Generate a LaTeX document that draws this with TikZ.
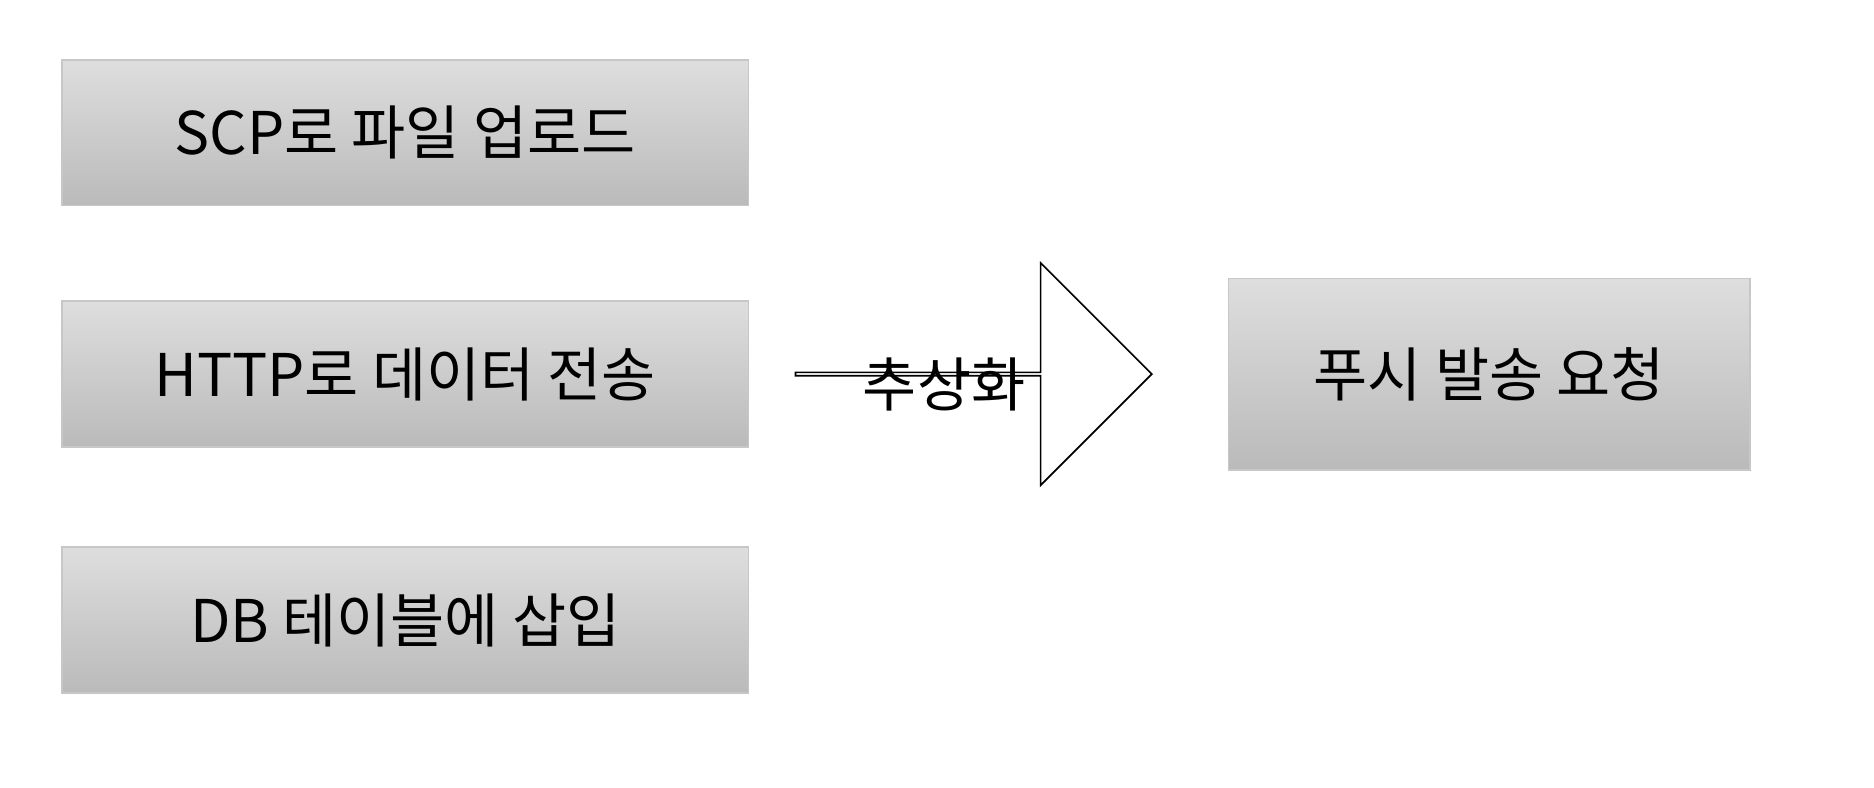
\documentclass[tikz,border=0pt]{standalone}
\usepackage{fontspec}
\setmainfont{Noto Sans CJK KR}
\usetikzlibrary{shapes.arrows}

\tikzset{
  taskBox/.style={draw=black!22, top color=black!13, bottom color=black!27,
    minimum width=5.74cm, minimum height=1.22cm, inner sep=0pt,
    font=\fontsize{14}{16}\selectfont},
  absArrow/.style={draw, single arrow, single arrow head extend=0.465cm,
    minimum height=2.98cm, minimum width=1.86cm, inner sep=0pt, shape border rotate=0}
}

\begin{document}
\begin{tikzpicture}[x=0.01cm, y=-0.01cm]
\useasboundingbox (0,0) rectangle (1568,659);

\node [taskBox] (scp) at (339,111) {SCP로 파일 업로드};
\node [taskBox] (http) at (339,313) {HTTP로 데이터 전송};
\node [taskBox] (db) at (339,519) {DB 테이블에 삽입};

\node [absArrow] (abs) at (814,313) {};
\node [font=\fontsize{14}{16}\selectfont] (absLabel) at (790,322) {추상화};

\node [taskBox, minimum width=4.36cm, minimum height=1.6cm] (push) at (1246,313) {푸시 발송 요청};

\end{tikzpicture}
\end{document}
